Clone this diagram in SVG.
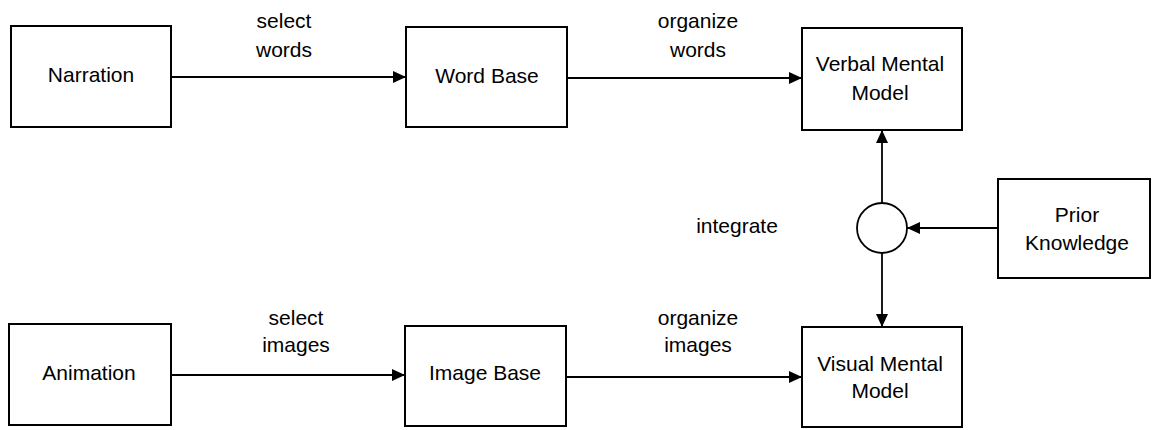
<svg xmlns="http://www.w3.org/2000/svg" width="1155" height="430" viewBox="0 0 1155 430">
<style>
.box{fill:#fff;stroke:#000;stroke-width:2}
.lbl{font-family:"Liberation Sans",Arial,sans-serif;font-size:21px;fill:#000;text-anchor:middle}
.edge{fill:none;stroke:#000;stroke-width:1.8}
</style>
<defs>
<marker id="ah" markerUnits="userSpaceOnUse" markerWidth="14" markerHeight="12" refX="13" refY="6" orient="auto">
<path d="M0,0 L13,6 L0,12 z" fill="#000"/>
</marker>
</defs>
<rect width="1155" height="430" fill="#fff"/>
<g id="connectors">
<line class="edge" x1="171" y1="77" x2="406" y2="77" marker-end="url(#ah)"/>
<line class="edge" x1="567" y1="78" x2="802" y2="78" marker-end="url(#ah)"/>
<line class="edge" x1="882" y1="203" x2="882" y2="130" marker-end="url(#ah)"/>
<line class="edge" x1="998" y1="228" x2="907" y2="228" marker-end="url(#ah)"/>
<line class="edge" x1="882" y1="253" x2="882" y2="327" marker-end="url(#ah)"/>
<line class="edge" x1="171" y1="375" x2="405" y2="375" marker-end="url(#ah)"/>
<line class="edge" x1="566" y1="377" x2="802" y2="377" marker-end="url(#ah)"/>
<text class="lbl" x="284" y="28">select</text>
<text class="lbl" x="284" y="57">words</text>
<text class="lbl" x="698" y="28">organize</text>
<text class="lbl" x="698" y="57">words</text>
<text class="lbl" x="296" y="325">select</text>
<text class="lbl" x="296" y="352">images</text>
<text class="lbl" x="698" y="325">organize</text>
<text class="lbl" x="698" y="352">images</text>
<text class="lbl" x="737" y="233">integrate</text>
</g>
<g id="narration">
<rect class="box" x="11" y="26" width="160" height="101"/>
<text class="lbl" x="91" y="82">Narration</text>
</g>
<g id="word-base">
<rect class="box" x="406" y="27" width="161" height="100"/>
<text class="lbl" x="487" y="83">Word Base</text>
</g>
<g id="verbal-mental-model">
<rect class="box" x="802" y="28" width="160" height="102"/>
<text class="lbl" x="880" y="71">Verbal Mental</text>
<text class="lbl" x="880" y="100">Model</text>
</g>
<g id="integrate-node">
<circle cx="882" cy="228" r="25" fill="#fff" stroke="#000" stroke-width="1.8"/>
</g>
<g id="prior-knowledge">
<rect class="box" x="998" y="179" width="152" height="99"/>
<text class="lbl" x="1077" y="222">Prior</text>
<text class="lbl" x="1077" y="250">Knowledge</text>
</g>
<g id="animation">
<rect class="box" x="9" y="324" width="162" height="101"/>
<text class="lbl" x="89" y="380">Animation</text>
</g>
<g id="image-base">
<rect class="box" x="405" y="326" width="161" height="100"/>
<text class="lbl" x="485" y="380">Image Base</text>
</g>
<g id="visual-mental-model">
<rect class="box" x="802" y="327" width="160" height="100"/>
<text class="lbl" x="880" y="371">Visual Mental</text>
<text class="lbl" x="880" y="398">Model</text>
</g>
</svg>
